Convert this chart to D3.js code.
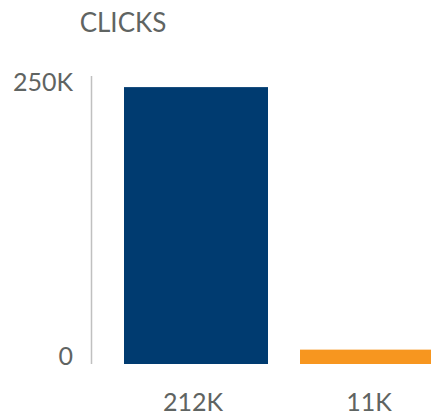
<!DOCTYPE html>
<html>
<head>
<meta charset="utf-8">
<script src="https://cdn.jsdelivr.net/npm/d3@7"></script>
<style>
  html, body { margin: 0; padding: 0; background: #fff; }
  svg { display: block; }
  text { font-family: Lato, "Open Sans", sans-serif; fill: #5f6462; }
</style>
</head>
<body>
<svg id="chart" width="431" height="418"></svg>
<script>
// Clicks per group
const categories = ["A", "B"];
const clicks = [212000, 11000];
const valueLabels = ["212K", "11K"];
const yTickLabels = ["0", "250K"];
const barColors = ["#003b70", "#f7961f"];
const title = "CLICKS";

const svg = d3.select("#chart");

const x = d3.scaleBand()
  .domain(categories)
  .range([108, 460])
  .paddingInner(32 / 176)
  .paddingOuter(16 / 176);

const y = d3.scaleLinear()
  .domain([0, 220500])
  .range([364, 76]);

// title
svg.append("text")
  .attr("x", 123)
  .attr("y", 32)
  .attr("text-anchor", "middle")
  .attr("font-size", 26)
  .text(title);

// vertical axis line
svg.append("line")
  .attr("x1", 91.5).attr("x2", 91.5)
  .attr("y1", y.range()[1]).attr("y2", y.range()[0])
  .attr("stroke", "#c0c0c0")
  .attr("stroke-width", 1.5);

// axis end labels
svg.selectAll("text.ytick")
  .data(yTickLabels)
  .join("text")
  .attr("class", "ytick")
  .attr("x", 73)
  .attr("y", (d, i) => i === 0 ? y.range()[0] + 1 : y.range()[1] + 15)
  .attr("text-anchor", "end")
  .attr("font-size", 25)
  .text(d => d);

// bars
svg.selectAll("rect.bar")
  .data(categories)
  .join("rect")
  .attr("class", "bar")
  .attr("x", d => x(d))
  .attr("width", x.bandwidth())
  .attr("y", (d, i) => y(clicks[i]))
  .attr("height", (d, i) => y(0) - y(clicks[i]))
  .attr("fill", (d, i) => barColors[i]);

// value labels under bars
svg.selectAll("text.val")
  .data(categories)
  .join("text")
  .attr("class", "val")
  .attr("x", d => x(d) + x.bandwidth() / 2 - 3)
  .attr("y", 411)
  .attr("text-anchor", "middle")
  .attr("font-size", 25)
  .text((d, i) => valueLabels[i]);
</script>
</body>
</html>
